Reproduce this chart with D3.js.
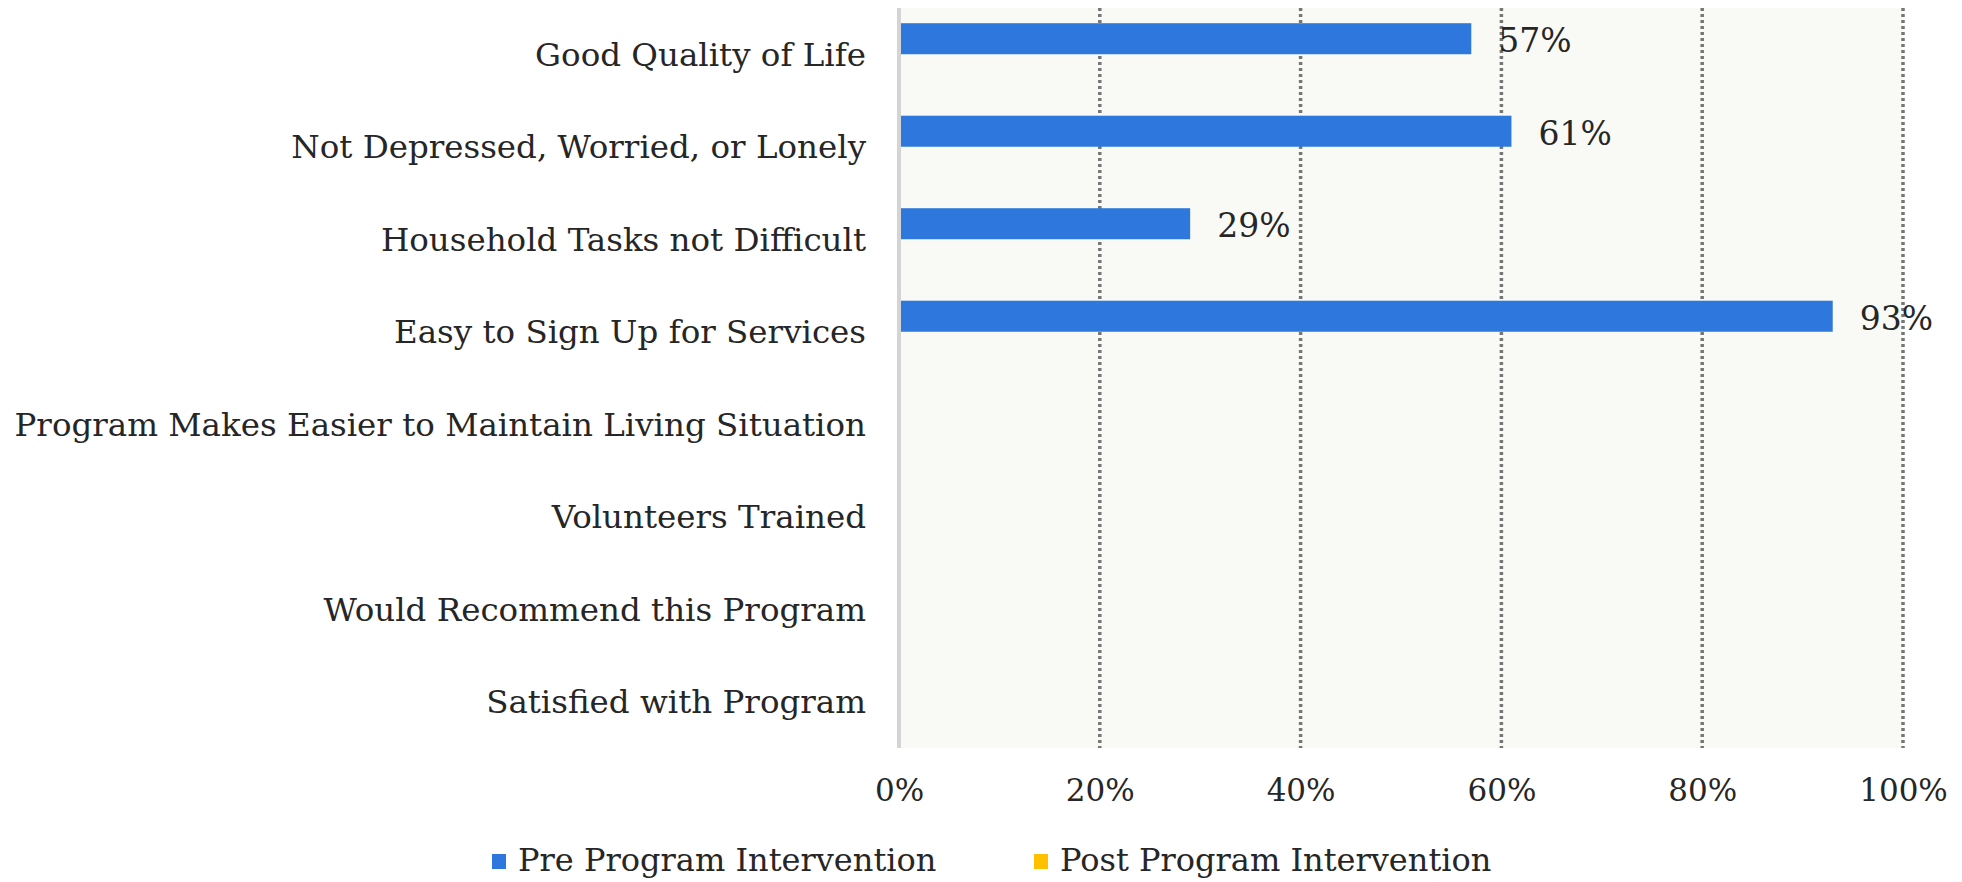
<!DOCTYPE html>
<html>
<head>
<meta charset="utf-8">
<script src="https://cdn.jsdelivr.net/npm/d3@7"></script>
<style>
  html, body { margin: 0; padding: 0; background: #ffffff; }
  svg text { font-family: "DejaVu Serif", serif; fill: #262626; }
</style>
</head>
<body>
<svg class="chart_svg" width="1962" height="882"></svg>
<script>
/* Chart data */
let categories = [
    "Good Quality of Life",
    "Not Depressed, Worried, or Lonely",
    "Household Tasks not Difficult",
    "Easy to Sign Up for Services",
    "Program Makes Easier to Maintain Living Situation",
    "Volunteers Trained",
    "Would Recommend this Program",
    "Satisfied with Program"
];
let pre_values = [57, 61, 29, 93, null, null, null, null];
let post_values = [null, null, null, null, null, null, null, null];
let series_names = ["Pre Program Intervention", "Post Program Intervention"];
let series_colors = ["#2E78DD", "#FFC000"];
let x_ticks = [0, 20, 40, 60, 80, 100];

let svg = d3.select("svg.chart_svg");

let margin = {left: 899, right: 59, top: 8, bottom: 134};
let width = +svg.attr("width");
let height = +svg.attr("height");
let plot_w = width - margin.left - margin.right;
let plot_h = height - margin.top - margin.bottom;

let x = d3.scaleLinear().domain([0, 100]).range([0, plot_w]);
let y = d3.scaleBand().domain(categories).range([0, plot_h]).paddingInner(0).paddingOuter(0);
let y_series = d3.scaleBand().domain([0, 1]).range([0, y.bandwidth()]).paddingInner(0).paddingOuter(0.49);

let g = svg.append("g").attr("transform", "translate(" + margin.left + "," + margin.top + ")");

// plot background
g.append("rect")
    .attr("width", plot_w)
    .attr("height", plot_h)
    .attr("fill", "#F9FAF5");

// dotted vertical gridlines
g.selectAll("line.grid")
    .data(x_ticks.filter(function(t){ return t > 0; }))
    .enter()
    .append("line")
    .attr("class", "grid")
    .attr("x1", function(d){ return x(d); })
    .attr("x2", function(d){ return x(d); })
    .attr("y1", 0)
    .attr("y2", plot_h)
    .attr("stroke", "#767676")
    .attr("stroke-width", 3.5)
    .attr("stroke-dasharray", "3,3");

// bars, one group per series
let all_series = [pre_values, post_values];
all_series.forEach(function(vals, si){
    let rows = categories.map(function(c, i){ return {cat: c, value: vals[i]}; })
        .filter(function(d){ return d.value !== null; });

    g.selectAll("rect.bar_" + si)
        .data(rows)
        .enter()
        .append("rect")
        .attr("class", "bar_" + si)
        .attr("x", 0)
        .attr("y", function(d){ return y(d.cat) + y_series(si); })
        .attr("width", function(d){ return x(d.value); })
        .attr("height", y_series.bandwidth())
        .attr("fill", series_colors[si]);

    g.selectAll("text.lbl_" + si)
        .data(rows)
        .enter()
        .append("text")
        .attr("class", "lbl_" + si)
        .attr("x", function(d){ return x(d.value) + 27; })
        .attr("y", function(d){ return y(d.cat) + y_series(si) + y_series.bandwidth() / 2 + 2; })
        .attr("dy", "0.35em")
        .style("font-size", "33px")
        .text(function(d){ return d.value + "%"; });
});

// left axis line
g.append("line")
    .attr("x1", 0).attr("x2", 0)
    .attr("y1", 0).attr("y2", plot_h)
    .attr("stroke", "#d4d4d4")
    .attr("stroke-width", 4);

// category axis
let y_axis = g.append("g").call(d3.axisLeft(y).tickSize(0).tickPadding(33));
y_axis.select(".domain").remove();
y_axis.selectAll("text").style("font-size", "32.5px").attr("dy", "0.35em");

// value axis
let x_axis = g.append("g")
    .attr("transform", "translate(0," + plot_h + ")")
    .call(d3.axisBottom(x).tickValues(x_ticks).tickSize(0).tickPadding(31)
        .tickFormat(function(d){ return d + "%"; }));
x_axis.select(".domain").remove();
x_axis.selectAll("text").style("font-size", "31px");

// legend
let legend_items = [{x: 492, name: series_names[0], color: series_colors[0]},
                    {x: 1034, name: series_names[1], color: series_colors[1]}];
let legend = svg.append("g").attr("transform", "translate(0,860)");
legend.selectAll("rect")
    .data(legend_items)
    .enter()
    .append("rect")
    .attr("x", function(d){ return d.x; })
    .attr("y", -6)
    .attr("width", 14)
    .attr("height", 15)
    .attr("fill", function(d){ return d.color; });
legend.selectAll("text")
    .data(legend_items)
    .enter()
    .append("text")
    .attr("x", function(d){ return d.x + 26; })
    .attr("y", 0)
    .attr("dy", "0.35em")
    .style("font-size", "32px")
    .text(function(d){ return d.name; });
</script>
</body>
</html>
